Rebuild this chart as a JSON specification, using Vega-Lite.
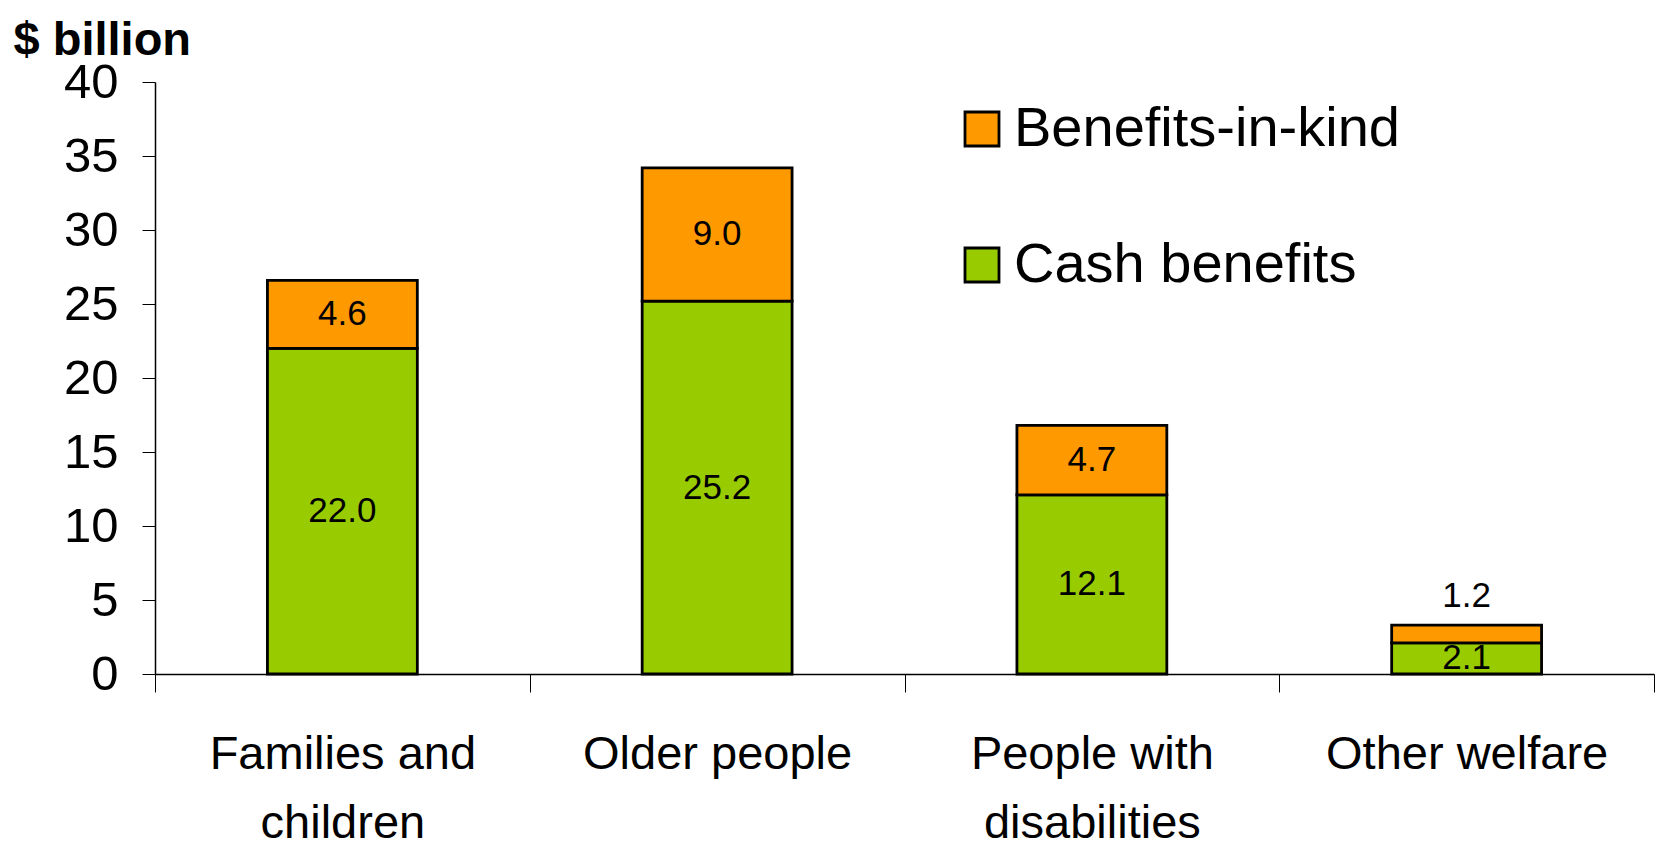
{
  "$schema": "https://vega.github.io/schema/vega-lite/v6.json",
  "autosize": {"type": "none"},
  "width": 1499,
  "height": 592,
  "padding": {"left": 155, "top": 82, "right": 2, "bottom": 174},
  "background": "white",
  "config": {
    "view": {"stroke": null},
    "font": "'Liberation Sans', sans-serif"
  },
  "data": {
    "values": [
      {"category": "Families and children", "type": "Cash benefits", "amount": 22.0},
      {"category": "Families and children", "type": "Benefits-in-kind", "amount": 4.6},
      {"category": "Older people", "type": "Cash benefits", "amount": 25.2},
      {"category": "Older people", "type": "Benefits-in-kind", "amount": 9.0},
      {"category": "People with disabilities", "type": "Cash benefits", "amount": 12.1},
      {"category": "People with disabilities", "type": "Benefits-in-kind", "amount": 4.7},
      {"category": "Other welfare", "type": "Cash benefits", "amount": 2.1},
      {"category": "Other welfare", "type": "Benefits-in-kind", "amount": 1.2}
    ]
  },
  "encoding": {
    "x": {
      "field": "category",
      "type": "nominal",
      "sort": null,
      "scale": {"paddingInner": 0, "paddingOuter": 0},
      "axis": {
        "title": null,
        "labelAngle": 0,
        "labelFont": "'Liberation Sans', sans-serif",
        "labelFontSize": 47,
        "labelColor": "black",
        "labelLimit": 0,
        "labelLineHeight": 69,
        "labelPadding": 39,
        "labelExpr": "datum.label == 'Families and children' ? ['Families and', 'children'] : datum.label == 'People with disabilities' ? ['People with', 'disabilities'] : datum.label",
        "tickBand": "extent",
        "tickSize": 18,
        "tickColor": "black",
        "domainColor": "black",
        "domainWidth": 1.5,
        "grid": false
      }
    }
  },
  "layer": [
    {
      "mark": {"type": "bar", "stroke": "black", "strokeWidth": 2.8, "width": {"band": 0.4}},
      "encoding": {
        "y": {
          "field": "amount",
          "type": "quantitative",
          "stack": "zero",
          "scale": {"domain": [0, 40], "nice": false},
          "axis": {
            "values": [0, 5, 10, 15, 20, 25, 30, 35, 40],
            "grid": false,
            "title": "$ billion",
            "titleAngle": 0,
            "titleAlign": "left",
            "titleBaseline": "alphabetic",
            "titleX": -142,
            "titleY": -28,
            "titleFont": "'Liberation Sans', sans-serif",
            "titleFontSize": 47,
            "titleFontWeight": "bold",
            "titleColor": "black",
            "labelFont": "'Liberation Sans', sans-serif",
            "labelFontSize": 49,
            "labelColor": "black",
            "labelPadding": 24,
            "tickSize": 13,
            "tickColor": "black",
            "domainColor": "black",
            "domainWidth": 1.5
          }
        },
        "color": {
          "field": "type",
          "type": "nominal",
          "scale": {"domain": ["Benefits-in-kind", "Cash benefits"], "range": ["#FF9900", "#99CC00"]},
          "legend": {
            "orient": "none",
            "legendX": 799,
            "legendY": 19,
            "direction": "vertical",
            "title": null,
            "symbolType": "square",
            "symbolSize": 1156,
            "symbolStrokeColor": "black",
            "symbolStrokeWidth": 2.8,
            "symbolOpacity": 1,
            "labelFont": "'Liberation Sans', sans-serif",
            "labelFontSize": 56,
            "labelColor": "black",
            "labelLimit": 0,
            "labelOffset": 4,
            "rowPadding": 80
          }
        },
        "order": {"field": "type", "sort": "descending"}
      }
    },
    {
      "transform": [
        {"stack": "amount", "groupby": ["category"], "sort": [{"field": "type", "order": "descending"}], "as": ["y0", "y1"]},
        {"filter": "datum.amount >= 2"},
        {"fold": ["y0", "y1"], "as": ["edge", "pos"]},
        {"aggregate": [{"op": "mean", "field": "pos", "as": "mid"}], "groupby": ["category", "type", "amount"]}
      ],
      "mark": {"type": "text", "baseline": "middle", "align": "center", "fontSize": 35, "color": "black", "font": "'Liberation Sans', sans-serif"},
      "encoding": {
        "y": {"field": "mid", "type": "quantitative"},
        "text": {"field": "amount", "type": "quantitative", "format": ".1f"}
      }
    },
    {
      "transform": [
        {"stack": "amount", "groupby": ["category"], "sort": [{"field": "type", "order": "descending"}], "as": ["y0", "y1"]},
        {"filter": "datum.amount < 2"}
      ],
      "mark": {"type": "text", "baseline": "alphabetic", "align": "center", "fontSize": 35, "dy": -18, "color": "black", "font": "'Liberation Sans', sans-serif"},
      "encoding": {
        "y": {"field": "y1", "type": "quantitative"},
        "text": {"field": "amount", "type": "quantitative", "format": ".1f"}
      }
    }
  ]
}
